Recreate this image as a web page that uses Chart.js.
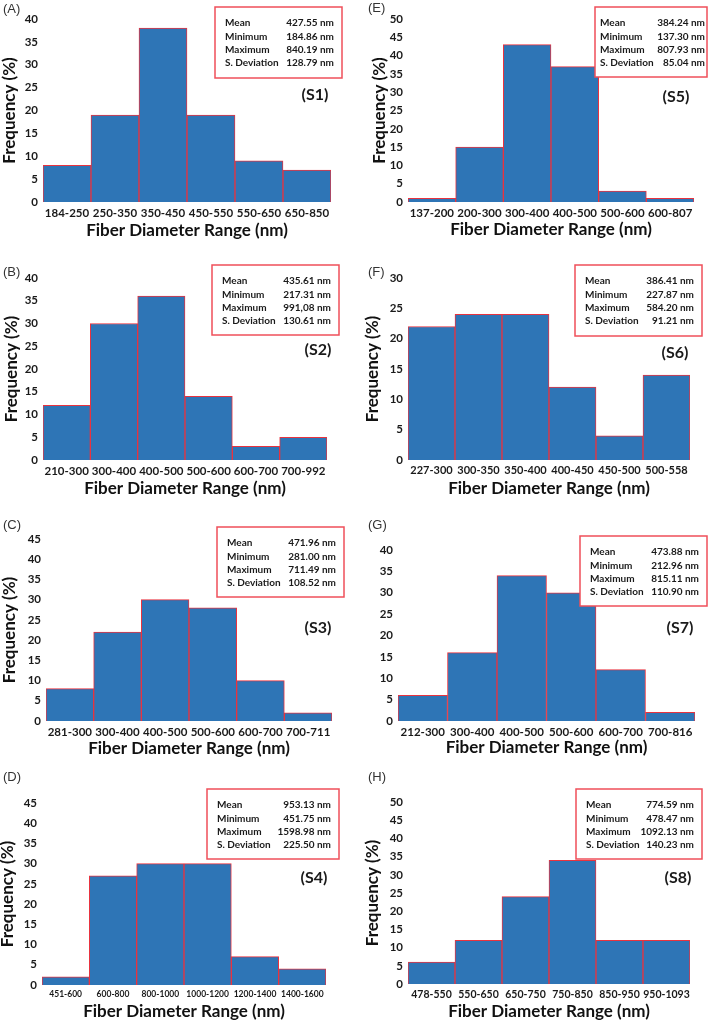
<!DOCTYPE html>
<html>
<head>
<script src="https://cdn.jsdelivr.net/npm/chart.js@4/dist/chart.umd.min.js"></script>
<style>
  body { margin: 0; background: #fff; }
  #wrap { position: relative; width: 709px; height: 1022px; overflow: hidden; }
  #wrap canvas { position: absolute; left: 0; top: 0; }
</style>
</head>
<body>
<div id="wrap"></div>

<script>
// ---- data ----
const statNames = ['Mean', 'Minimum', 'Maximum', 'S. Deviation'];

const labelsS1 = ['184-250', '250-350', '350-450', '450-550', '550-650', '650-850'];
const freqS1   = [8, 19, 38, 19, 9, 7];
const statsS1  = ['427.55 nm', '184.86 nm', '840.19 nm', '128.79 nm'];

const labelsS2 = ['210-300', '300-400', '400-500', '500-600', '600-700', '700-992'];
const freqS2   = [12, 30, 36, 14, 3, 5];
const statsS2  = ['435.61 nm', '217.31 nm', '991,08 nm', '130.61 nm'];

const labelsS3 = ['281-300', '300-400', '400-500', '500-600', '600-700', '700-711'];
const freqS3   = [8, 22, 30, 28, 10, 2];
const statsS3  = ['471.96 nm', '281.00 nm', '711.49 nm', '108.52 nm'];

const labelsS4 = ['451-600', '600-800', '800-1000', '1000-1200', '1200-1400', '1400-1600'];
const freqS4   = [2, 27, 30, 30, 7, 4];
const statsS4  = ['953.13 nm', '451.75 nm', '1598.98 nm', '225.50 nm'];

const labelsS5 = ['137-200', '200-300', '300-400', '400-500', '500-600', '600-807'];
const freqS5   = [1, 15, 43, 37, 3, 1];
const statsS5  = ['384.24 nm', '137.30 nm', '807.93 nm', '85.04 nm'];

const labelsS6 = ['227-300', '300-350', '350-400', '400-450', '450-500', '500-558'];
const freqS6   = [22, 24, 24, 12, 4, 14];
const statsS6  = ['386.41 nm', '227.87 nm', '584.20 nm', '91.21 nm'];

const labelsS7 = ['212-300', '300-400', '400-500', '500-600', '600-700', '700-816'];
const freqS7   = [6, 16, 34, 30, 12, 2];
const statsS7  = ['473.88 nm', '212.96 nm', '815.11 nm', '110.90 nm'];

const labelsS8 = ['478-550', '550-650', '650-750', '750-850', '850-950', '950-1093'];
const freqS8   = [6, 12, 24, 34, 12, 12];
const statsS8  = ['774.59 nm', '478.47 nm', '1092.13 nm', '140.23 nm'];

// y axis maximum of each panel (S1..S8)
const yMax = [40, 40, 45, 45, 50, 30, 40, 50];

const xTitle = 'Fiber Diameter Range (nm)';
const yTitle = 'Frequency (%)';

// ---- layout of the 8 panels (page pixels) ----
const W = 709, H = 1022;
const panels = [
  { letter: '(A)', name: '(S1)', labels: labelsS1, data: freqS1, stats: statsS1, max: yMax[0],
    plot: [43, 19, 331, 202], yTitleX: 10, xTitleY: 231, lp: [3, 9], box: [215, 7, 342, 78], sPos: [315, 95] },
  { letter: '(B)', name: '(S2)', labels: labelsS2, data: freqS2, stats: statsS2, max: yMax[1],
    plot: [43, 278, 327, 460], yTitleX: 12, xTitleY: 489, lp: [3, 272], box: [212, 265, 339, 335], sPos: [318, 350] },
  { letter: '(C)', name: '(S3)', labels: labelsS3, data: freqS3, stats: statsS3, max: yMax[2],
    plot: [46, 539, 332, 721], yTitleX: 10, xTitleY: 749, lp: [3, 525], box: [217, 527, 344, 597], sPos: [318, 628] },
  { letter: '(D)', name: '(S4)', labels: labelsS4, data: freqS4, stats: statsS4, max: yMax[3],
    plot: [42, 803, 326, 985], yTitleX: 8, xTitleY: 1012, lp: [3, 777], box: [207, 789, 339, 859], sPos: [314, 878], xFont: 8.5 },
  { letter: '(E)', name: '(S5)', labels: labelsS5, data: freqS5, stats: statsS5, max: yMax[4],
    plot: [408, 19, 694, 202], yTitleX: 380, xTitleY: 230, lp: [368, 8], box: [595, 7, 707, 77], sPos: [676, 97], tx: [5, 2] },
  { letter: '(F)', name: '(S6)', labels: labelsS6, data: freqS6, stats: statsS6, max: yMax[5],
    plot: [408, 278, 690, 460], yTitleX: 373, xTitleY: 489, lp: [368, 272], box: [575, 265, 702, 336], sPos: [675, 353], xFont: 11 },
  { letter: '(G)', name: '(S7)', labels: labelsS7, data: freqS7, stats: statsS7, max: yMax[6],
    plot: [398, 550, 695, 721], yTitleX: null, xTitleY: 748, lp: [368, 525], box: [580, 536, 707, 606], sPos: [680, 628] },
  { letter: '(H)', name: '(S8)', labels: labelsS8, data: freqS8, stats: statsS8, max: yMax[7],
    plot: [408, 802, 690, 984], yTitleX: 373, xTitleY: 1012, lp: [368, 777], box: [576, 789, 702, 859], sPos: [678, 878], xFont: 10.5 }
];

const FONT = 'Lato, "Open Sans", sans-serif';
const TITLE_SIZE = 17;
const HALF = TITLE_SIZE * 1.2 / 2;

// draws panel letter, the statistics box and the sample name
const extras = {
  id: 'extras',
  afterDraw(chart, args, o) {
    const ctx = chart.ctx;
    const p = o.panel;
    ctx.save();
    ctx.fillStyle = '#333';
    ctx.font = '13px "Liberation Sans", Arial, sans-serif';
    ctx.textAlign = 'left';
    ctx.textBaseline = 'middle';
    ctx.fillText(p.letter, p.lp[0], p.lp[1]);

    const [l, t, r, b] = p.box;
    ctx.fillStyle = '#fff';
    ctx.fillRect(l, t, r - l, b - t);
    ctx.strokeStyle = '#ef4f5a';
    ctx.lineWidth = 1.5;
    ctx.strokeRect(l, t, r - l, b - t);

    const tx = p.tx || [10, 8];
    ctx.fillStyle = '#1a1a1a';
    ctx.font = 'bold 10px ' + FONT;
    for (let i = 0; i < statNames.length; i++) {
      const y = t + 16 + i * 13.3;
      ctx.textAlign = 'left';
      ctx.fillText(statNames[i], l + tx[0], y);
      ctx.textAlign = 'right';
      ctx.fillText(p.stats[i], r - tx[1], y);
    }

    ctx.font = 'bold 16px ' + FONT;
    ctx.textAlign = 'center';
    ctx.fillText(p.name, p.sPos[0], p.sPos[1]);
    ctx.restore();
  }
};

const wrap = document.getElementById('wrap');

panels.forEach(p => {
  const cv = document.createElement('canvas');
  cv.width = W;
  cv.height = H;
  wrap.appendChild(cv);

  const [pl, pt, pr, pb] = p.plot;
  const hasY = p.yTitleX !== null;
  const padLeft = hasY ? p.yTitleX - HALF : pl - 30;
  const yW = pl - padLeft;
  const xH = p.xTitleY + HALF - pb;

  new Chart(cv.getContext('2d'), {
    type: 'bar',
    data: {
      labels: p.labels,
      datasets: [{
        data: p.data,
        backgroundColor: '#2e75b6',
        borderColor: '#e8333f',
        borderWidth: 1,
        barPercentage: 1,
        categoryPercentage: 1
      }]
    },
    options: {
      responsive: false,
      animation: false,
      events: [],
      layout: { padding: { left: padLeft, top: pt, right: W - pr, bottom: H - pb - xH } },
      plugins: {
        legend: { display: false },
        tooltip: { enabled: false },
        extras: { panel: p }
      },
      scales: {
        x: {
          grid: { display: false, drawTicks: false },
          border: { display: false },
          ticks: {
            color: '#1a1a1a',
            padding: 4,
            maxRotation: 0,
            autoSkip: false,
            font: { family: FONT, size: p.xFont || 11.5, weight: 'bold' }
          },
          title: {
            display: true,
            text: xTitle,
            color: '#111',
            padding: 0,
            font: { family: FONT, size: TITLE_SIZE, weight: 'bold' }
          },
          afterFit(scale) { scale.height = xH; }
        },
        y: {
          min: 0,
          max: p.max,
          grid: { display: false, drawTicks: false },
          border: { display: false },
          ticks: {
            stepSize: 5,
            color: '#1a1a1a',
            padding: 5,
            font: { family: FONT, size: 11.5, weight: 'bold' }
          },
          title: {
            display: hasY,
            text: yTitle,
            color: '#111',
            padding: 0,
            font: { family: FONT, size: TITLE_SIZE, weight: 'bold' }
          },
          afterFit(scale) { scale.width = yW; }
        }
      }
    },
    plugins: [extras]
  });
});
</script>
</body>
</html>
